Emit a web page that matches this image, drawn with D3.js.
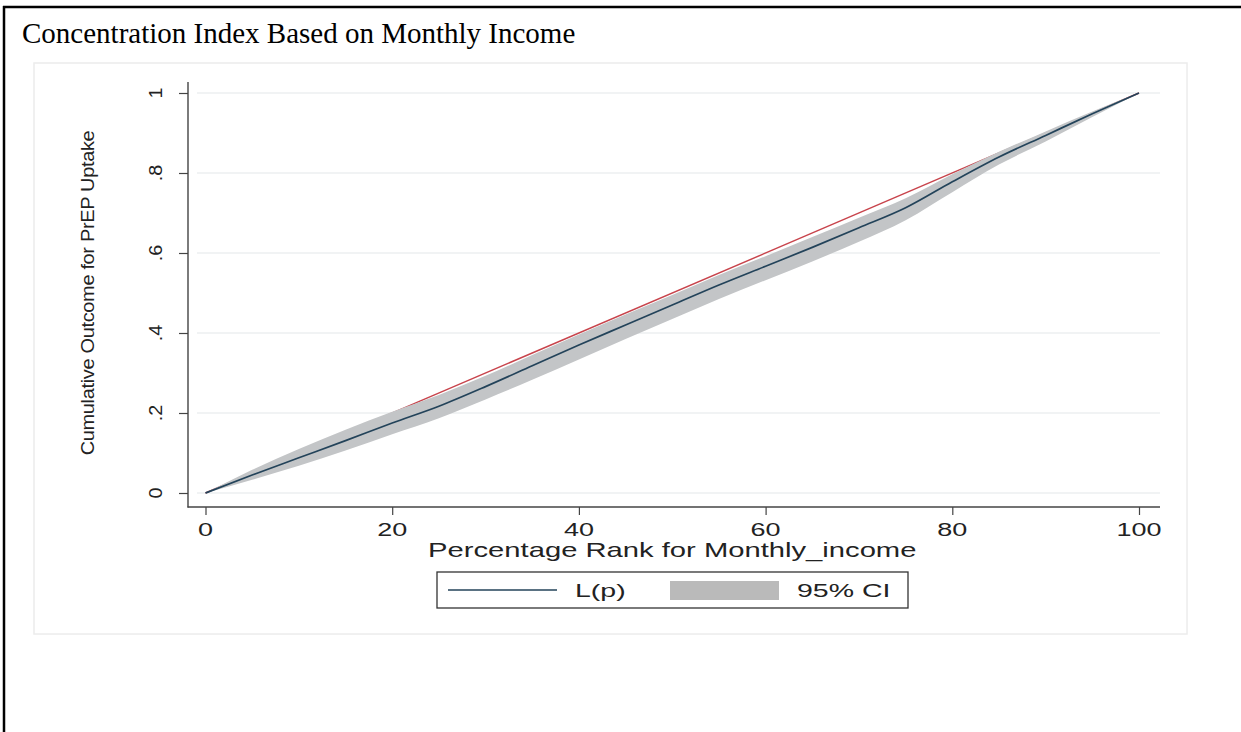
<!DOCTYPE html>
<html>
<head>
<meta charset="utf-8">
<script src="https://cdn.jsdelivr.net/npm/d3@7/dist/d3.min.js"></script>
<style>
  html, body { margin: 0; padding: 0; background: #ffffff; }
  svg { display: block; }
</style>
</head>
<body>
<svg id="chart" width="1241" height="732"></svg>
<script>
// ---------------- data ----------------
const titleText = "Concentration Index Based on Monthly Income";
const xTitle = "Percentage Rank for Monthly_income";
const yTitle = "Cumulative Outcome for PrEP Uptake";
const legendLabels = ["L(p)", "95% CI"];

const rank = [0, 5, 10, 15, 20, 25, 30, 35, 40, 45, 50, 55, 60, 65, 70, 75, 80, 85, 90, 95, 100];
const lp   = [0, 0.045, 0.088, 0.131, 0.175, 0.217, 0.266, 0.318, 0.370, 0.420, 0.470, 0.520, 0.567, 0.614, 0.663, 0.713, 0.778, 0.840, 0.894, 0.948, 1];
const ciHi = [0, 0.058, 0.110, 0.158, 0.203, 0.245, 0.293, 0.345, 0.396, 0.446, 0.495, 0.545, 0.592, 0.640, 0.688, 0.737, 0.797, 0.853, 0.904, 0.954, 1];
const ciLo = [0, 0.033, 0.068, 0.106, 0.147, 0.187, 0.234, 0.283, 0.334, 0.385, 0.435, 0.485, 0.532, 0.579, 0.628, 0.682, 0.752, 0.821, 0.879, 0.940, 1];

const equalityX = [0, 100];
const equalityY = [0, 1];

const xTicks = [0, 20, 40, 60, 80, 100];
const xTickLabels = ["0", "20", "40", "60", "80", "100"];
const yTicks = [0, 0.2, 0.4, 0.6, 0.8, 1];
const yTickLabels = ["0", ".2", ".4", ".6", ".8", "1"];

// ---------------- drawing ----------------
const svg = d3.select("#chart");
const SANS = "'Liberation Sans', Arial, sans-serif";
const SERIF = "'Liberation Serif', 'Times New Roman', serif";

const x = d3.scaleLinear().domain([0, 100]).range([205.5, 1139]);
const y = d3.scaleLinear().domain([0, 1]).range([493, 93]);

// page frame (document box)
svg.append("rect").attr("x", 0).attr("y", 0).attr("width", 1241).attr("height", 732).attr("fill", "#fff");
svg.append("line").attr("x1", 4).attr("x2", 4).attr("y1", 6).attr("y2", 732)
  .attr("stroke", "#000").attr("stroke-width", 2.5);
svg.append("line").attr("x1", 3).attr("x2", 1241).attr("y1", 7).attr("y2", 7)
  .attr("stroke", "#000").attr("stroke-width", 2.5);

// title
svg.append("text").attr("x", 22).attr("y", 43)
  .attr("font-family", SERIF).attr("font-size", 29).attr("fill", "#000")
  .text(titleText);

// graph region (faint box)
svg.append("rect").attr("x", 34).attr("y", 63).attr("width", 1153).attr("height", 571)
  .attr("fill", "#fff").attr("stroke", "#ececec").attr("stroke-width", 1.5);

// gridlines
svg.append("g").selectAll("line").data(yTicks).join("line")
  .attr("x1", 197).attr("x2", 1160)
  .attr("y1", d => y(d)).attr("y2", d => y(d))
  .attr("stroke", "#eceff0").attr("stroke-width", 1.6);

// equality line (red)
svg.append("line")
  .attr("x1", x(equalityX[0])).attr("y1", y(equalityY[0]))
  .attr("x2", x(equalityX[1])).attr("y2", y(equalityY[1]))
  .attr("stroke", "#c8444c").attr("stroke-width", 1.4);

// CI band
const pts = rank.map((r, i) => ({ r, lp: lp[i], lo: ciLo[i], hi: ciHi[i] }));
const area = d3.area().x(d => x(d.r)).y0(d => y(d.lo)).y1(d => y(d.hi)).curve(d3.curveMonotoneX);
svg.append("path").datum(pts).attr("d", area).attr("fill", "#c3c5c7").attr("stroke", "none");

// L(p) line
const line = d3.line().x(d => x(d.r)).y(d => y(d.lp)).curve(d3.curveMonotoneX);
svg.append("path").datum(pts).attr("d", line)
  .attr("fill", "none").attr("stroke", "#23435a").attr("stroke-width", 1.7);

// axes (ticks via d3 axes)
const yAxis = d3.axisLeft(y).tickValues(yTicks).tickSize(9).tickSizeOuter(0).tickFormat("");
const gy = svg.append("g").attr("transform", "translate(188,0)").call(yAxis);
gy.select(".domain").remove();
gy.selectAll(".tick line").attr("stroke", "#444").attr("stroke-width", 1.2);

const xAxis = d3.axisBottom(x).tickValues(xTicks).tickSize(8).tickSizeOuter(0).tickFormat("");
const gx = svg.append("g").attr("transform", "translate(0,507)").call(xAxis);
gx.select(".domain").remove();
gx.selectAll(".tick line").attr("stroke", "#444").attr("stroke-width", 1.2);

// axis lines
svg.append("line").attr("x1", 188).attr("x2", 188).attr("y1", 82).attr("y2", 507.5)
  .attr("stroke", "#444").attr("stroke-width", 1.4);
svg.append("line").attr("x1", 187.5).attr("x2", 1160).attr("y1", 507).attr("y2", 507)
  .attr("stroke", "#444").attr("stroke-width", 1.4);

// x tick labels (horizontally stretched like the reference)
svg.append("g").selectAll("text").data(xTicks).join("text")
  .attr("transform", d => `translate(${x(d)},536) scale(1.5,1)`)
  .attr("text-anchor", "middle")
  .attr("font-family", SANS).attr("font-size", 18).attr("fill", "#222")
  .text((d, i) => xTickLabels[i]);

// y tick labels (rotated)
svg.append("g").selectAll("text").data(yTicks).join("text")
  .attr("transform", d => `translate(162,${y(d)}) rotate(-90) scale(1.1,1)`)
  .attr("text-anchor", "middle")
  .attr("font-family", SANS).attr("font-size", 18).attr("fill", "#222")
  .text((d, i) => yTickLabels[i]);

// axis titles
svg.append("text")
  .attr("transform", `translate(${(x(0) + x(100)) / 2},557) scale(1.46,1)`)
  .attr("text-anchor", "middle")
  .attr("font-family", SANS).attr("font-size", 20).attr("fill", "#222")
  .text(xTitle);

svg.append("text")
  .attr("transform", `translate(94,${(y(0) + y(1)) / 2}) rotate(-90) scale(1.05,1)`)
  .attr("text-anchor", "middle")
  .attr("font-family", SANS).attr("font-size", 19).attr("letter-spacing", -0.3).attr("fill", "#222")
  .text(yTitle);

// legend
const lg = svg.append("g");
lg.append("rect").attr("x", 437).attr("y", 572).attr("width", 471).attr("height", 36)
  .attr("fill", "#fff").attr("stroke", "#333").attr("stroke-width", 1.3);
lg.append("line").attr("x1", 448).attr("x2", 557).attr("y1", 590).attr("y2", 590)
  .attr("stroke", "#23435a").attr("stroke-width", 1.6);
lg.append("text").attr("transform", "translate(575,597) scale(1.5,1)")
  .attr("font-family", SANS).attr("font-size", 19).attr("fill", "#222")
  .text(legendLabels[0]);
lg.append("rect").attr("x", 670).attr("y", 581).attr("width", 109).attr("height", 19)
  .attr("fill", "#bababa");
lg.append("text").attr("transform", "translate(797,597) scale(1.5,1)")
  .attr("font-family", SANS).attr("font-size", 19).attr("fill", "#222")
  .text(legendLabels[1]);
</script>
</body>
</html>
